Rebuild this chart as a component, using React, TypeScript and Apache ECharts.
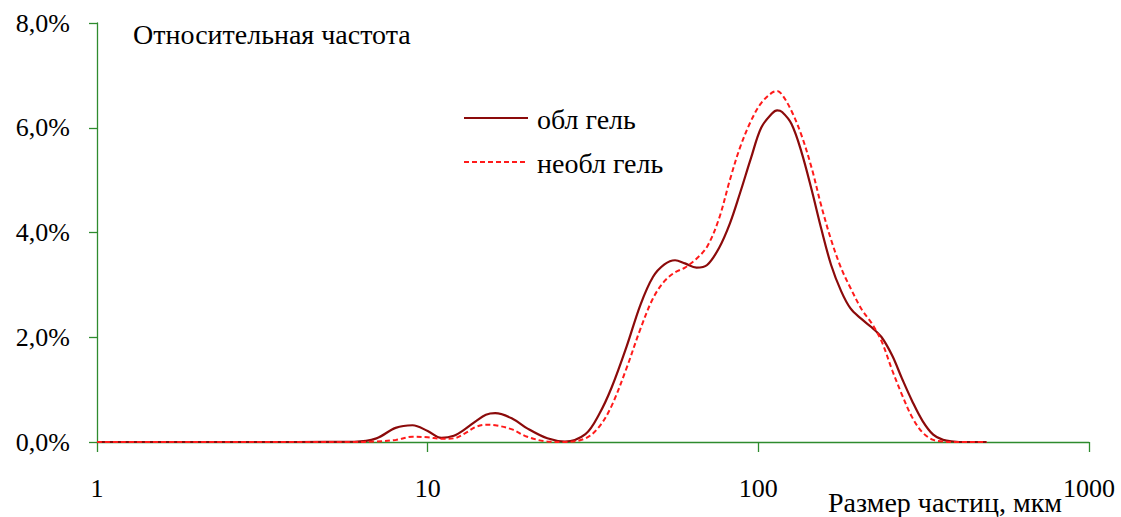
import React, { useEffect, useRef } from "react";
import * as echarts from "echarts";

// Particle size, µm
const sizes = [
  1, 2, 4, 6, 7, 8, 9, 10, 11, 12, 13, 14, 15, 16, 18, 20, 23, 26, 30, 33, 36, 40, 44, 48, 52, 56, 60, 65,
  70, 76, 82, 88, 95, 102, 110, 114, 118, 126, 135, 145, 155, 166, 178, 190, 205, 220, 236, 254, 272, 292,
  314, 338, 362, 390, 420, 450, 490,
];
// Relative frequency, %
const oblGel = [
  0, 0, 0, 0.005, 0.07, 0.27, 0.32, 0.21, 0.08, 0.12, 0.25, 0.4, 0.52, 0.55, 0.45, 0.26, 0.07, 0.01, 0.15,
  0.53, 1.04, 1.83, 2.62, 3.15, 3.39, 3.47, 3.41, 3.33, 3.38, 3.7, 4.17, 4.75, 5.42, 6.0, 6.27, 6.33, 6.3,
  6.07, 5.54, 4.81, 4.07, 3.38, 2.88, 2.55, 2.35, 2.19, 2.0, 1.65, 1.21, 0.78, 0.4, 0.14, 0.04, 0.01, 0, 0, 0,
];
const neoblGel = [
  0, 0, 0, 0, 0.01, 0.04, 0.1, 0.09, 0.06, 0.07, 0.17, 0.29, 0.33, 0.32, 0.24, 0.1, 0.01, 0, 0.07, 0.29,
  0.69, 1.42, 2.16, 2.74, 3.07, 3.24, 3.33, 3.5, 3.73, 4.26, 5.0, 5.62, 6.13, 6.47, 6.67, 6.7, 6.63, 6.32,
  5.86, 5.23, 4.51, 3.86, 3.32, 2.94, 2.54, 2.27, 1.92, 1.37, 0.9, 0.47, 0.18, 0.04, 0.01, 0, 0, 0, 0,
];
const seriesNames = ["обл гель", "необл гель"];
const yTicks = [0, 2, 4, 6, 8];
const xTicks = [1, 10, 100, 1000];

const FONT = '"Liberation Serif"';
const FS_AXIS = 26;
const FS_TEXT = 28;
const AXIS_COLOR = "#2e8b2e";
const SOLID_COLOR = "#8b0a0a";
const DASH_COLOR = "#ff1a1a";

const fontCss = `#chart-root svg text, #chart-root svg tspan { font-family: "Liberation Serif", "Times New Roman", serif !important; }`;

export default function App() {
  const ref = useRef<HTMLDivElement>(null);
  useEffect(() => {
    if (!ref.current) return;
    const chart = echarts.init(ref.current, undefined, { renderer: "svg" });
    const pairs = (ys: number[]) => sizes.map((x, i) => [x, ys[i]]);
    const txt = (text: string, x: number, y: number) => ({
      type: "text",
      x,
      y,
      style: {
        text,
        fontFamily: FONT,
        fontSize: FS_TEXT,
        fill: "#000",
        align: "left",
        verticalAlign: "middle",
      },
    });
    chart.setOption({
      animation: false,
      backgroundColor: "#ffffff",
      grid: { left: 97, right: 32, top: 23, bottom: 75, containLabel: false },
      xAxis: {
        type: "log",
        logBase: 10,
        min: xTicks[0],
        max: xTicks[xTicks.length - 1],
        axisLine: { lineStyle: { color: AXIS_COLOR, width: 1.3 } },
        axisTick: { show: true, length: 10, lineStyle: { color: AXIS_COLOR, width: 1.3 } },
        minorTick: { show: false },
        splitLine: { show: false },
        axisLabel: {
          color: "#000",
          fontFamily: FONT,
          fontSize: FS_AXIS,
          margin: 33,
          formatter: (v: number) => String(Math.round(v)),
        },
      },
      yAxis: {
        type: "value",
        min: yTicks[0],
        max: yTicks[yTicks.length - 1],
        interval: 2,
        axisLine: { show: true, lineStyle: { color: AXIS_COLOR, width: 1.3 } },
        axisTick: { show: true, length: 8, lineStyle: { color: AXIS_COLOR, width: 1.3 } },
        splitLine: { show: false },
        axisLabel: {
          color: "#000",
          fontFamily: FONT,
          fontSize: FS_AXIS,
          margin: 27,
          formatter: (v: number) => v.toFixed(1).replace(".", ",") + "%",
        },
      },
      series: [
        {
          name: seriesNames[0],
          type: "line",
          data: pairs(oblGel),
          smooth: 0.35,
          showSymbol: false,
          lineStyle: { color: SOLID_COLOR, width: 2.2 },
          z: 3,
        },
        {
          name: seriesNames[1],
          type: "line",
          data: pairs(neoblGel),
          smooth: 0.35,
          showSymbol: false,
          lineStyle: { color: DASH_COLOR, width: 2, type: [5, 3] },
          z: 4,
        },
      ],
      graphic: [
        txt("Относительная частота", 133, 34),
        txt("Размер частиц, мкм", 828, 502),
        {
          type: "line",
          shape: { x1: 464, y1: 118, x2: 528, y2: 118 },
          style: { stroke: SOLID_COLOR, lineWidth: 2.2 },
        },
        txt(seriesNames[0], 537, 119),
        {
          type: "line",
          shape: { x1: 464, y1: 162, x2: 528, y2: 162 },
          style: { stroke: DASH_COLOR, lineWidth: 2, lineDash: [5, 3] },
        },
        txt(seriesNames[1], 537, 163),
      ],
    });
    return () => chart.dispose();
  }, []);
  return (
    <>
      <style>{fontCss}</style>
      <div
        id="chart-root"
        ref={ref}
        style={{ width: 1121, height: 517, position: "absolute", left: 0, top: 0 }}
      />
    </>
  );
}
